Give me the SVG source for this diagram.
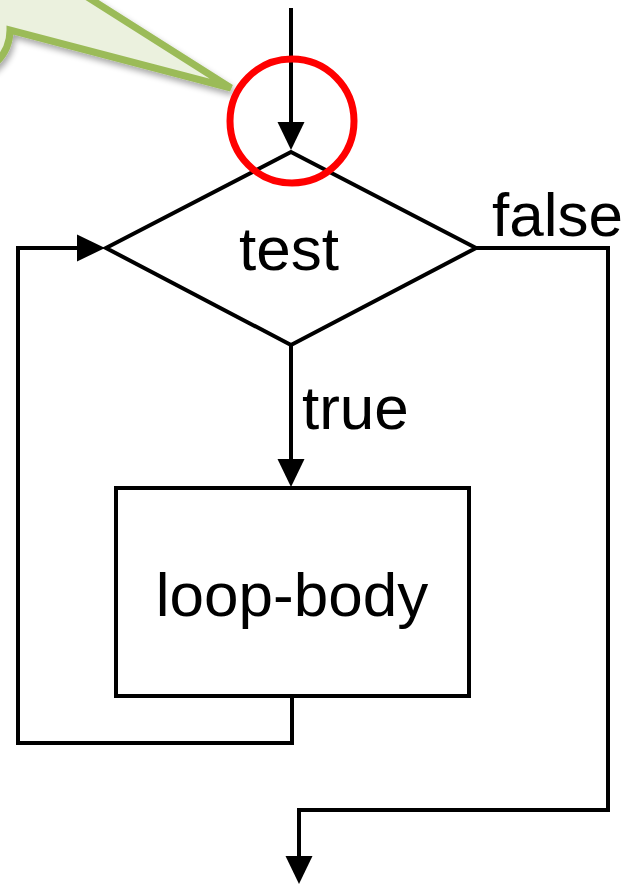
<svg xmlns="http://www.w3.org/2000/svg" width="632" height="884" viewBox="0 0 632 884">
<style>
.ln{fill:none;stroke:#000;stroke-width:4;stroke-linejoin:miter}
.shape{fill:#fff;stroke:#000;stroke-width:4}
.lbl{font-family:"Liberation Sans",Arial,sans-serif;font-size:62px;fill:#000}
</style>
<defs>
<filter id="sh" x="-20%" y="-20%" width="140%" height="140%">
<feGaussianBlur in="SourceAlpha" stdDeviation="3"/>
<feOffset dx="2" dy="4" result="b"/>
<feComponentTransfer><feFuncA type="linear" slope="0.35"/></feComponentTransfer>
<feMerge><feMergeNode/><feMergeNode in="SourceGraphic"/></feMerge>
</filter>
<path id="ah" d="M0,0 L-13.5,-28 L13.5,-28 Z"/>
</defs>
<rect width="632" height="884" fill="#fff"/>
<g id="callout">
<path d="M-300,-300 L10,-300 L10,-52 L231,88 L10,30 A45,45 0 0 1 -35,75 L-300,75 Z" fill="#EBF1DE" stroke="#9BBB59" stroke-width="7" stroke-linejoin="miter" stroke-miterlimit="3" filter="url(#sh)"/>
</g>
<g id="connectors">
<path class="ln" d="M291,8 V124"/>
<use href="#ah" transform="translate(291,150)"/>
<path class="ln" d="M291,345 V462"/>
<use href="#ah" transform="translate(291,487)"/>
<path class="ln" d="M292,696 V743 H18 V248 H80"/>
<use href="#ah" transform="translate(105,248) rotate(-90)"/>
<path class="ln" d="M476,248 H608 V810 H299 V858"/>
<use href="#ah" transform="translate(299,884)"/>
</g>
<g id="test">
<polygon class="shape" points="291,152 476,248 291,345 106,248"/>
<text class="lbl" x="289" y="270" text-anchor="middle">test</text>
</g>
<g id="loop-body">
<rect class="shape" x="116" y="488" width="353" height="208"/>
<text class="lbl" x="292" y="616" text-anchor="middle">loop-body</text>
</g>
<text id="lbl-false" class="lbl" x="492" y="236">false</text>
<text id="lbl-true" class="lbl" x="302" y="429">true</text>
<g id="highlight">
<circle cx="292" cy="121" r="62" fill="none" stroke="#FF0000" stroke-width="7"/>
</g>
</svg>
